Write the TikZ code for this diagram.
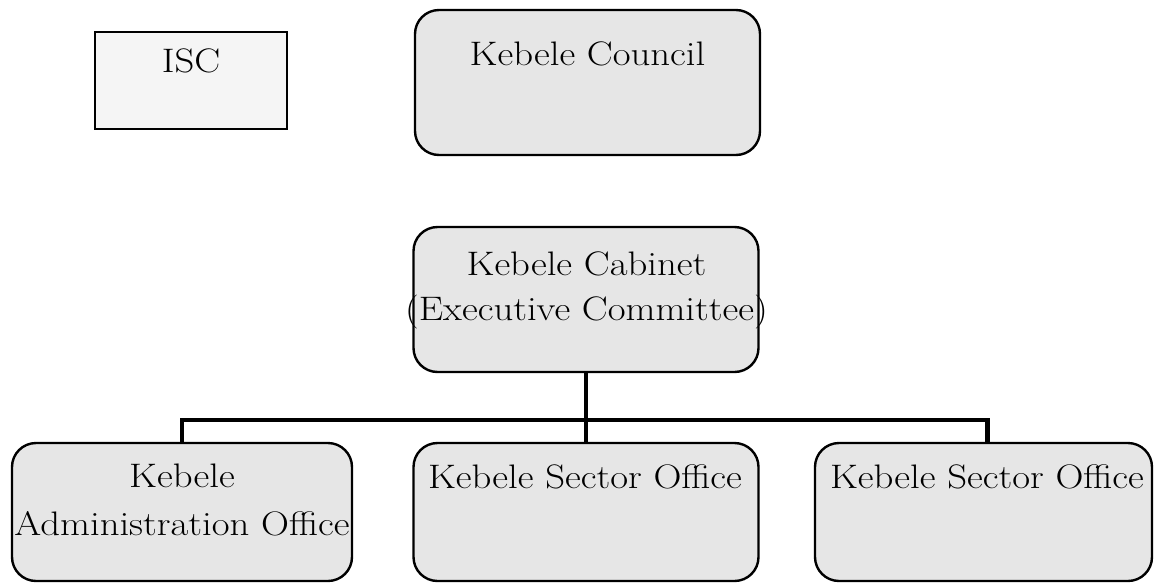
\documentclass[tikz,border=0pt]{standalone}
\usetikzlibrary{calc}
\definecolor{boxgray}{HTML}{E6E6E6}
\definecolor{paleboxgray}{HTML}{F5F5F5}
\newcommand{\wide}[1]{\scalebox{1.14}[1]{#1}}
\tikzset{
  unitbox/.style={draw=black, line width=2.4pt, fill=boxgray, rounded corners=24pt,
    inner sep=0pt, outer sep=0pt},
  plainbox/.style={draw=black, line width=2.2pt, fill=paleboxgray,
    inner sep=0pt, outer sep=0pt},
  caption/.style={anchor=base, inner sep=0pt, font=\fontsize{34}{45}\selectfont},
  link/.style={line width=4.8pt, black},
}
\begin{document}
\begin{tikzpicture}[x=1pt,y=-1pt]
  \useasboundingbox (0,0) rectangle (1154,584);
  % boxes
  \node[plainbox, minimum width=192pt, minimum height=97pt] (isc) at (191,80.5) {};
  \node[unitbox, minimum width=345pt, minimum height=145pt] (council) at (587.5,82.5) {};
  \node[unitbox, minimum width=345pt, minimum height=145pt] (cabinet) at (586,299.5) {};
  \node[unitbox, minimum width=340pt, minimum height=138pt] (admin) at (182,512) {};
  \node[unitbox, minimum width=345pt, minimum height=138pt] (sector1) at (586,512) {};
  \node[unitbox, minimum width=337pt, minimum height=138pt] (sector2) at (983.5,512) {};
  % texts
  \node[caption] (iscT) at (191,72) {\wide{ISC}};
  \node[caption] (councilT) at (587.5,65) {\wide{Kebele Council}};
  \node[caption] (cabinetT1) at (586.5,275) {\wide{Kebele Cabinet}};
  \node[caption] (cabinetT2) at (586.5,320) {\wide{(Executive Committee)}};
  \node[caption] (adminT1) at (182,487) {\wide{Kebele}};
  \node[caption] (adminT2) at (182,535) {\wide{Administration Office}};
  \node[caption] (sector1T) at (585,488) {\wide{Kebele Sector Office}};
  \node[caption] (sector2T) at (987,488) {\wide{Kebele Sector Office}};
  % connectors
  \coordinate (bus) at (585,420);
  \draw[link] (cabinet.south) -- (sector1.north);
  \draw[link] (admin.north) |- (bus) -| ([xshift=4pt]sector2.north);
\end{tikzpicture}
\end{document}
